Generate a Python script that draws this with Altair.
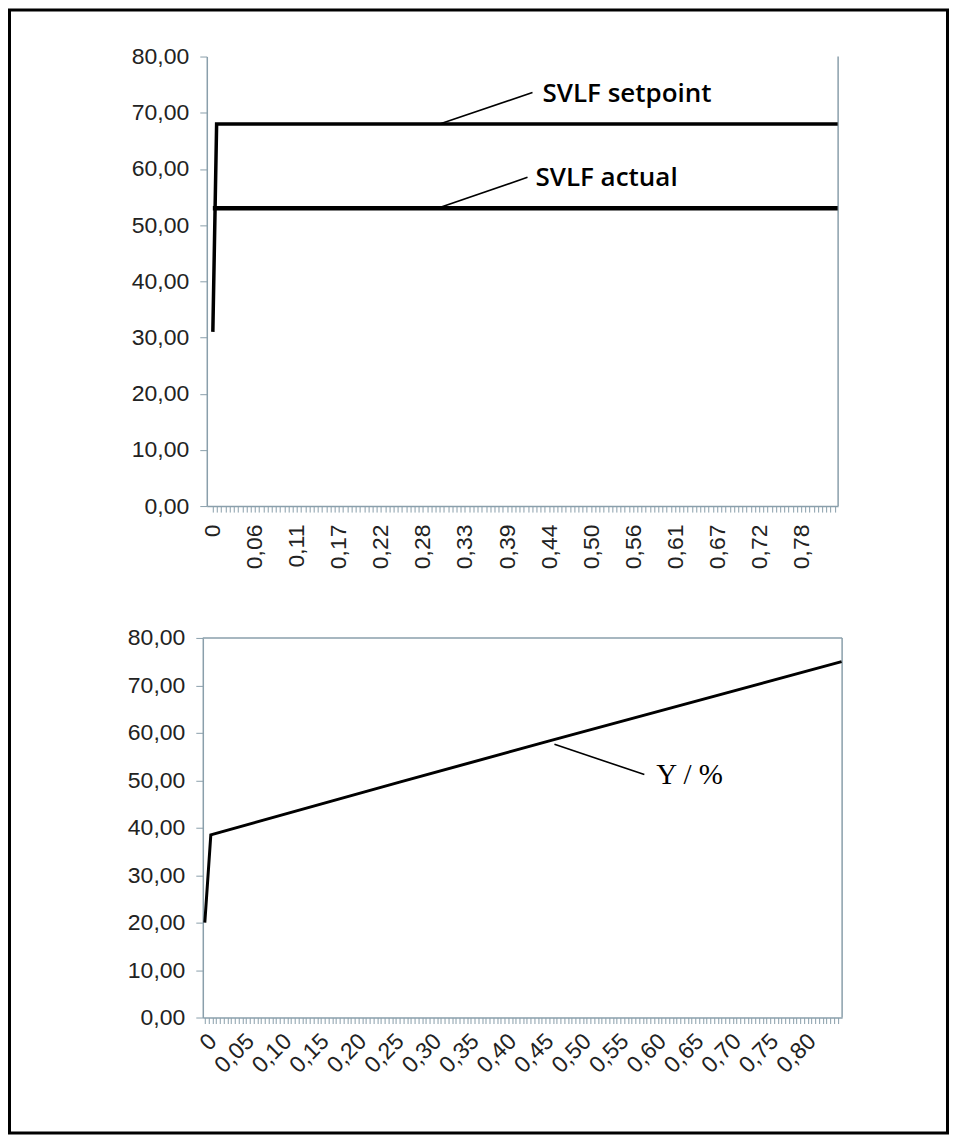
import altair as alt
import pandas as pd

# ---------------- data ----------------
# top panel: SVLF setpoint / SVLF actual
SP_X = [0.0, 0.005, 0.826]
SP_Y = [31.0, 68.0, 68.0]
ACT_X = [0.0, 0.826]
ACT_Y = [53.0, 53.0]

# bottom panel: Y / %
Y_X = [0.0, 0.008, 0.26, 0.46, 0.85]
Y_Y = [20.0, 38.5, 49.6, 58.3, 75.0]

# axes
Y_TICKS = [0, 10, 20, 30, 40, 50, 60, 70, 80]
TOP_X_TICKS = [i / 180 for i in range(0, 149)]   # one tick per category, label every 10th
BOT_X_TICKS = [i / 200 for i in range(0, 170)]

# annotations
TOP_LABELS = ["SVLF setpoint", "SVLF actual"]
TOP_LABEL_X = [0.4358, 0.4265]
TOP_LABEL_Y = [73.4, 58.3]
TOP_LEAD_X = [0.2998, 0.2971]
TOP_LEAD_Y = [68.0, 53.0]
TOP_LEAD_X2 = [0.4226, 0.4160]
TOP_LEAD_Y2 = [73.6, 58.5]

BOT_LABELS = ["Y / %"]
BOT_LABEL_X = [0.6027]
BOT_LABEL_Y = [51.2]
BOT_LEAD_X = [0.4667]
BOT_LEAD_Y = [57.6]
BOT_LEAD_X2 = [0.5867]
BOT_LEAD_Y2 = [51.2]

# ---------------- styling ----------------
AX = "#8a9fab"
TOP_W, TOP_H = 632, 450
BOT_W, BOT_H = 640, 380
TOP_XDOM = [-0.008, 0.8266]
BOT_XDOM = [-0.0027, 0.8507]
YDOM = [0, 80]

comma2 = "replace(format(datum.value, '.2f'), '.', ',')"


def x_label_expr(n):
    return (f"(round(datum.value*{n}) % 10 == 0) ? "
            f"(round(datum.value*{n}) == 0 ? '0' : {comma2}) : ''")


common_axis = dict(
    domainColor=AX, tickColor=AX, labelColor="#222222",
    labelFont="Liberation Sans", labelFontSize=23, grid=False, title=None,
    domainWidth=1.5, tickWidth=1, labelOverlap=False, labelFlush=False,
    tickCount=1000,
)

y_axis = alt.Axis(values=Y_TICKS, labelExpr=comma2, tickSize=7, labelPadding=11, **common_axis)
top_x_axis = alt.Axis(values=TOP_X_TICKS, labelExpr=x_label_expr(180), labelAngle=270,
                      tickSize=6, labelPadding=12, **common_axis)
bot_x_axis = alt.Axis(values=BOT_X_TICKS, labelExpr=x_label_expr(200), labelAngle=315,
                      tickSize=6, labelPadding=6, **common_axis)

top_xs = alt.Scale(domain=TOP_XDOM, nice=False, zero=False)
bot_xs = alt.Scale(domain=BOT_XDOM, nice=False, zero=False)
ys = alt.Scale(domain=YDOM, nice=False)

one = pd.DataFrame({"k": [0]})

# ---------------- top panel ----------------
sp_df = pd.DataFrame({"x": SP_X, "y": SP_Y})
act_df = pd.DataFrame({"x": ACT_X, "y": ACT_Y})
tl_df = pd.DataFrame({"label": TOP_LABELS, "x": TOP_LABEL_X, "y": TOP_LABEL_Y,
                      "lx": TOP_LEAD_X, "ly": TOP_LEAD_Y, "lx2": TOP_LEAD_X2, "ly2": TOP_LEAD_Y2})

sp_line = alt.Chart(sp_df).mark_line(color="black", strokeWidth=3.5).encode(
    x=alt.X("x:Q", scale=top_xs, axis=top_x_axis),
    y=alt.Y("y:Q", scale=ys, axis=y_axis),
)
act_line = alt.Chart(act_df).mark_line(color="black", strokeWidth=4.5).encode(
    x=alt.X("x:Q", scale=top_xs), y=alt.Y("y:Q", scale=ys),
)
top_leads = alt.Chart(tl_df).mark_rule(color="black", strokeWidth=1.6).encode(
    x=alt.X("lx:Q", scale=top_xs), y=alt.Y("ly:Q", scale=ys),
    x2="lx2:Q", y2="ly2:Q",
)
top_text = alt.Chart(tl_df).mark_text(
    align="left", baseline="middle", font="Open Sans", fontWeight=600,
    fontSize=26, color="black",
).encode(x=alt.X("x:Q", scale=top_xs), y=alt.Y("y:Q", scale=ys), text="label:N")

top_right = alt.Chart(one).mark_rule(color=AX, strokeWidth=1.5).encode(
    x=alt.value(TOP_W), y=alt.value(0), y2=alt.value(TOP_H)
)
frame = alt.Chart(one).mark_rect(fillOpacity=0, stroke="black", strokeWidth=3).encode(
    x=alt.value(-197.5), x2=alt.value(741.5), y=alt.value(-46.5), y2=alt.value(1077.5)
)

top = alt.layer(top_right, sp_line, act_line, top_leads, top_text, frame).properties(
    width=TOP_W, height=TOP_H
)

# ---------------- bottom panel ----------------
y_df = pd.DataFrame({"x": Y_X, "y": Y_Y})
bl_df = pd.DataFrame({"label": BOT_LABELS, "x": BOT_LABEL_X, "y": BOT_LABEL_Y,
                      "lx": BOT_LEAD_X, "ly": BOT_LEAD_Y, "lx2": BOT_LEAD_X2, "ly2": BOT_LEAD_Y2})

y_line = alt.Chart(y_df).mark_line(color="black", strokeWidth=3).encode(
    x=alt.X("x:Q", scale=bot_xs, axis=bot_x_axis),
    y=alt.Y("y:Q", scale=ys, axis=y_axis),
)
bot_leads = alt.Chart(bl_df).mark_rule(color="black", strokeWidth=1.6).encode(
    x=alt.X("lx:Q", scale=bot_xs), y=alt.Y("ly:Q", scale=ys),
    x2="lx2:Q", y2="ly2:Q",
)
bot_text = alt.Chart(bl_df).mark_text(
    align="left", baseline="middle", font="Liberation Serif", fontSize=29, color="black",
).encode(x=alt.X("x:Q", scale=bot_xs), y=alt.Y("y:Q", scale=ys), text="label:N")

bot_right = alt.Chart(one).mark_rule(color=AX, strokeWidth=1.5).encode(
    x=alt.value(BOT_W), y=alt.value(0), y2=alt.value(BOT_H)
)
bot_top = alt.Chart(one).mark_rule(color=AX, strokeWidth=1.5).encode(
    x=alt.value(0), x2=alt.value(BOT_W), y=alt.value(0)
)

bottom = alt.layer(bot_right, bot_top, y_line, bot_leads, bot_text).properties(
    width=BOT_W, height=BOT_H
)

chart = alt.vconcat(top, bottom, spacing=132, center=True, bounds="flush").properties(
    padding=0, background="white"
).configure_view(stroke=None)

chart.save("out.html", embed_options={"renderer": "svg", "actions": False})
